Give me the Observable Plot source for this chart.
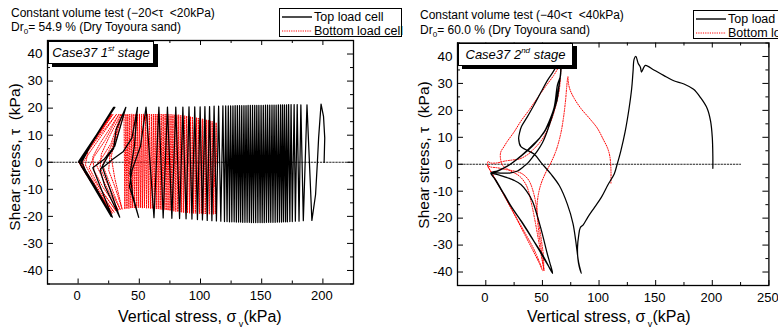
<!DOCTYPE html>
<html><head><meta charset="utf-8">
<script src="https://cdn.jsdelivr.net/npm/d3@7"></script>
<script src="https://cdn.jsdelivr.net/npm/@observablehq/plot@0.6"></script>
<style>
body{margin:0;width:778px;height:331px;overflow:hidden;background:#fff;position:relative;font-family:"Liberation Sans",Arial,sans-serif;color:#000}
.abs{position:absolute;white-space:nowrap}
.title{font-size:12px;line-height:14px}
.title sub{font-size:8px;vertical-align:-3px;line-height:0}
.legend{border:1px solid #000;background:#fff;font-size:12.5px}
.legend .row{position:absolute;left:0;height:14px;width:200px}
.legend svg.smp{position:absolute;left:2px;top:5px;width:30px;height:4px}
.legend .lab{position:absolute;left:34px;top:0;line-height:14px}
.case{border:1px solid #000;background:#fff;box-shadow:4px 3px 0 #000;font-style:italic;font-size:13px;line-height:21px;text-align:center}
.case sup{font-size:8px;vertical-align:6px;line-height:0}
.xl{font-size:16px}
.xl sub{font-size:9px;vertical-align:-5px;line-height:0}
.yl{font-size:15.5px;transform:translate(-50%,-50%) rotate(-90deg)}
svg.plot{position:absolute;top:0}
</style></head><body>
<script>
// ---------- axis definitions ----------
const yMajor = [-40,-30,-20,-10,0,10,20,30,40];
const yMinor = [-45,-35,-25,-15,-5,5,15,25,35,45];
const leftXLabels = [0,50,100,150,200];
const leftXMajor = [0,50,100,150,200];
const leftXMinor = [-25,25,75,125,175,225];
const rightXLabels = [0,50,100,150,200,250];
const rightXMajor = [0,50,100,150,200,250];
const rightXMinor = [-25,25,75,125,175,225];
const zeroLineLeft = [[-25,0],[225,0]];
const zeroLineRight = [[-25,0],[225,0]];

// ---------- Case37 1st stage : top load cell (sigma_v kPa, tau kPa) ----------
const leftTopCell = [
[201,0],[201.5,9],[200.5,17],[198.5,21.5],[196.5,9],[195.5,0],[194,-12],[191,-21.5],
[187,21.2],[184,-21.6],[182,21.2],[180.5,-21.8],[179,21.3],[177.5,-21.8],[176.5,21.3],[175,-21.9],
[174,21.3],[173,-21.9],[172,21.3],[171,-22],[170.3,21.2],[169.5,-22],[168.6,21.2],[167.8,-22],
[167,21.2],[166.2,-22.1],
[165.4,21.2],[164.5,-22.1],[163.6,21.2],[162.8,-22.1],[161.8,21.1],[161,-22.2],[160.1,21.1],[159.2,-22.2],
[158.4,21.1],[157.4,-22.2],[156.6,21.1],[155.7,-22.2],[154.8,21.1],[153.9,-22.2],[153.1,21.1],[152.1,-22.3],
[151.3,21],[150.4,-22.3],[149.5,21],[148.7,-22.3],[147.7,21],[146.9,-22.3],[146,21],[145.1,-22.3],
[144.3,21],[143.3,-22.3],[142.5,21],[141.6,-22.3],[140.7,21],[139.9,-22.2],[138.9,21],[138.1,-22.2],
[137.2,20.9],[136.3,-22.2],[135.5,20.9],[134.5,-22.2],[133.7,20.9],[132.8,-22.1],[131.9,20.9],[131.1,-22.1],
[130.1,20.9],[129.3,-22.1],[128.3,20.9],[127.5,-22],[126.5,20.8],[125.6,-22],[124.6,20.8],[123.7,-22],
[122.7,20.8],[121.7,-21.9],[120.6,20.8],[119.6,-21.9],
[118.3,20.8],[116.6,-21.8],[114.8,20.7],[113,-21.7],[111.1,20.7],[109.3,-21.6],[107.4,20.6],[105.5,-21.5],
[103.6,20.6],[101.6,-21.3],[99.7,20.5],
[97.5,-21.2],[95.3,20.5],[93,-21],[90.6,20.5],[88.2,-20.9],[85.6,20.4],[82.9,-20.8],
[79.8,20.4],[76.6,-20.7],[73,20.4],[69.5,-20.6],[66,20.4],[62,-20.5],[55.5,20.4],
[51,6],[44,-3],[42,-9],[49.5,-20.4],[44.5,-12],[42.5,-4],[46,6],[48.5,20.3],
[44,9],[37,4],[28,1],[20,-2],[34,-20.3],[22,-9],[18,-3],[24,2],[29,5],[31,12],[39,20.3],
[30,6],[21,1],[12,-2],[28,-20.3],[14,-9],[6,-3],[3,0],[10,6],[29.5,20.3],
[10,6],[3,1],[2,-1],[10,-7],[27,-20],[8,-5],[1,0],[29,20.3],[1,0],[28,-20.3],[0.5,0.3],[30,20.3],[0.5,0]
];

// ---------- Case37 1st stage : bottom load cell ----------
const leftBottomCell = [
[111,-9],[113,2],[112.8,14.6],
[112.1,-19.1],[111.2,15],[110.5,-19.2],[109.5,15.1],[108.9,-19.2],[107.9,15.3],[107.2,-19.2],[106.4,15.5],
[105.5,-19.1],[104.7,15.7],[103.9,-19.1],[103.1,15.9],[102.2,-19.1],[101.5,16],[100.7,-19],[99.8,16.2],
[99.1,-19],[98.2,16.3],[97.4,-19],[96.7,16.5],[95.8,-18.9],[95.1,16.6],[94.2,-18.9],[93.4,16.8],
[92.7,-18.8],[91.8,16.9],[91.1,-18.8],[90.2,17],[89.4,-18.7],[88.7,17.1],[87.8,-18.7],[87.1,17.2],
[86.2,-18.6],[85.5,17.3],[84.6,-18.5],[83.9,17.4],[83.1,-18.4],[82.2,17.5],[81.5,-18.3],[80.7,17.5],
[79.8,-18.2],[79.1,17.6],[78.2,-18.1],[77.5,17.6],[76.6,-18],[75.9,17.7],[75.1,-17.9],[74.2,17.7],
[73.5,-17.8],[72.6,17.8],[71.9,-17.7],[71.1,17.8],[70.2,-17.6],[69.5,17.8],[68.6,-17.5],[67.9,17.8],
[67.1,-17.4],[66.2,17.8],[65.5,-17.3],[64.6,17.8],[63.9,-17.3],[63.1,17.8],[62.2,-17.2],[61.5,17.8],
[60.6,-17.1],[59.9,17.8],[59.1,-17.1],[58.2,17.8],[57.5,-17],[56.6,17.8],[55.9,-17],[55.1,17.8],
[54.2,-16.9],[53.5,17.8],[52.6,-16.9],[51.9,17.8],[51.1,-16.8],[50.2,17.8],[49.5,-16.8],[48.6,17.8],
[47.9,-16.8],[47.1,17.8],[46.2,-16.9],[45.5,17.8],[44.6,-16.9],[43.9,17.8],[43.1,-17],[42.2,17.8],
[41.5,-17.1],[40.6,17.8],[39.9,-17.2],[39.1,17.8],[38.2,-17.3],[37.5,17.8],
[33,11],[29,6],[27,2],[30,-6],[36,-17.4],[30,-9],[25,-3],[26,3],[30,8],[36,17.8],[30,9],[24,3],[20,-1],
[26,-8],[34.5,-17.6],[24,-8],[18,-2],[19,3],[25,9],[35,17.8],[27,7],[20,2],[15,-1],
[22,-8],[33,-17.8],[20,-9],[13,-3],[12,2],[18,7],[33.5,17.8],[22,8],[13,2],[9,-2],[17,-9],[31,-18],
[12,-6],[6,-1],[8,4],[16,9],[31.5,17.8],[10,4],[4,0],[6,-4],[18,-12],[29.5,-18.5],[6,-3],[2,0],[8,5],
[28.5,17.7],[4,1.5],[1.2,-0.5],[10,-7],[28,-18.8],[3,-1],[1,0],[27.5,17.7],[1,0.2],[27,-19],[0.7,0],
[27,17.7],[0.8,0],[26.5,-18.5],[0.7,0]
];

// ---------- Case37 2nd stage : top load cell ----------
const rightTopCell = [
[200.5,-1.5],[200.5,3],[200,10],[198.5,16],[195.5,20.7],[190,24.5],[183.5,27.8],[175,29.8],[166,31],[157,33],
[148.4,35],[141,36.7],[139,35.5],[137.5,34.2],[136.5,36],[134.5,37.5],[132.5,40],[131,39],[130,34.3],[128.8,28],
[126.5,20.7],[123,12],[119.2,4.9],[116,0],[113.4,-3.6],[108,-7.5],[102,-12.3],[96,-16],[90,-19.7],[86,-22.5],
[83.5,-23.5],[82,-26.5],[81,-30.8],[81.3,-35],[82.5,-38],[84.3,-40.5],
[82,-36.5],[80.5,-32],[79.4,-28.4],[77,-22],[72,-14.8],[65,-8],[57.4,-3.6],[49,0.5],[42.6,3.8],[35,5.5],
[31,6.5],[29,9.5],[30,12],[31.5,14],[36.5,17.5],[42.6,22],[49,27],[55,31.5],[59,34],[62.5,36.5],[65,38.5],
[66,33],[63.3,29.5],[60.3,21],[55,15],[51.5,12],[42.6,7.3],[31,3],[19,-0.7],[10,-2.5],[4.4,-3.2],
[8,-5.5],[15,-10.5],[22,-15.5],[31,-21],[40,-27],[50,-33.5],[59,-40.5],
[56.5,-36.5],[54.4,-33.4],[51.5,-28.5],[48.5,-23.6],[45,-18.5],[41.2,-13.7],[36,-10],[31,-7.5],[25,-6],[19,-5],
[12,-4],[7.4,-3.6],[5,-3.4],[10,-3.2],[16,-3.3],[22,-3.2],[28,-2.5],[33,-1],[37,0.4],[41,2.5],[45.6,5],[50,8],
[54,12],[58,17],[61,21],[63,24],[65,30],[66.5,36],[67,40],
[66,33],[64,28],[61,22],[57,16.5],[51,11.5],[43,7.8],[32,3.4],[20,-0.5],[11,-2.5],[5,-3.4],
[9,-6],[16,-11],[23,-16],[32,-21.5],[41,-27.5],[50,-34],[58.5,-40]
];

// ---------- Case37 2nd stage : bottom load cell ----------
const rightBottomCell = [
[110.5,-7],[110.5,-2],[109.5,3],[107.5,6],[104,9],[98.6,13.3],[92,16.8],[84,20.7],[78,24.5],[74.5,27.5],
[73,30],[72.5,32.5],
[71.5,29],[70.5,24],[68.5,17],[66,11],[62,5],[57.4,0.5],[53,-3],[49,-7],[46.5,-11],[45.2,-16],[45.6,-20],
[47,-26],[48.5,-30],[50,-35],[51.5,-39.5],
[49,-34],[46.5,-28],[43,-20],[40,-14],[36,-8],[30,-4.5],[22,-2.5],[15,-0.5],[13,2],[13.2,4.5],[16,6.5],
[19,8.5],[25,12],[31,16],[38,20],[45.6,24.6],[53,29],[60,33],[63.5,35.5],
[66,37.5],[66,33],[65,28],[62,22],[58,16.5],[53,11.5],[48.5,8.5],[42,5.5],[37,3.6],[30,2],[24,1.6],
[17,1.2],[10,0.5],[4,0.5],[2,1],[1.5,-0.5],
[5,-3],[11,-7.5],[18,-13],[25,-18.5],[33,-25],[41,-31.5],[47,-36.5],[50.5,-39.5],
[51,-35],[49,-28],[46,-20],[43,-12],[38,-6],[32,-3.5],[25,-2.5],[18,-2],[10,-1.3],[4,-1],[2,-0.5],
[6,-4],[13,-9],[20,-14.5],[28,-20.5],[36,-26.5],[43,-32],[49.5,-38.5]
];

function panel(o){
  const fw = o.width - o.marginLeft - o.marginRight;
  const fh = o.height - o.marginTop - o.marginBottom;
  const p = Plot.plot({
    width:o.width, height:o.height,
    marginLeft:o.marginLeft, marginRight:o.marginRight, marginTop:o.marginTop, marginBottom:o.marginBottom,
    style:{fontFamily:'"Liberation Sans",Arial,sans-serif', background:"transparent", overflow:"visible"},
    x:{domain:o.xDomain}, y:{domain:[-45,45]},
    marks:[
      Plot.line(o.zero,{stroke:"#222",strokeWidth:1,strokeDasharray:"1.5,1.6"}),
      Plot.line(o.bottom,{stroke:"#ff0000",strokeWidth:1,strokeDasharray:"1.1,1.4",curve:o.curve}),
      Plot.line(o.top,{stroke:"#000",strokeWidth:1.25,curve:o.curve}),
      Plot.frame({stroke:"#000",strokeWidth:1.3}),
      Plot.tickY(yMajor,{y:d=>d,insetRight:fw-6,stroke:"#000"}),
      Plot.tickY(yMinor,{y:d=>d,insetRight:fw-3,stroke:"#000"}),
      Plot.tickY(yMajor,{y:d=>d,insetLeft:fw-6,stroke:"#000"}),
      Plot.tickY(yMinor,{y:d=>d,insetLeft:fw-3,stroke:"#000"}),
      Plot.tickX(o.xMajor,{x:d=>d,insetTop:fh-5,stroke:"#000"}),
      Plot.tickX(o.xMinor,{x:d=>d,insetTop:fh-3,stroke:"#000"}),
      Plot.tickX(o.xMajor,{x:d=>d,insetBottom:fh-5,stroke:"#000"}),
      Plot.tickX(o.xMinor,{x:d=>d,insetBottom:fh-3,stroke:"#000"}),
      Plot.axisY({ticks:yMajor,tickSize:0,tickPadding:5,fontSize:13.5,label:null,tickFormat:d=>String(d)}),
      Plot.axisX({ticks:o.xLabels,tickSize:0,tickPadding:7,fontSize:13,dx:-1,label:null})
    ]
  });
  p.classList.add("plot");
  p.style.left = o.left + "px";
  document.body.appendChild(p);
}

panel({left:0,width:360,height:331,marginLeft:47,marginRight:7,marginTop:40,marginBottom:47.5,
  xDomain:[-25,225],xMajor:leftXMajor,xMinor:leftXMinor,xLabels:leftXLabels,curve:"linear",
  zero:zeroLineLeft,top:leftTopCell,bottom:leftBottomCell});
panel({left:390,width:388,height:331,marginLeft:67,marginRight:9.6,marginTop:42.5,marginBottom:46,
  xDomain:[-25,250],xMajor:rightXMajor,xMinor:rightXMinor,xLabels:rightXLabels,curve:"catmull-rom",
  zero:zeroLineRight,top:rightTopCell,bottom:rightBottomCell});
</script>

<div class="abs title" style="left:11px;top:6px">Constant volume test (&minus;20&lt;&tau;&nbsp;&nbsp;&lt;20kPa)</div>
<div class="abs title" style="left:11px;top:20px">Dr<sub>0</sub>= 54.9 % (Dry Toyoura sand)</div>
<div class="abs title" style="left:420px;top:8px">Constant volume test (&minus;40&lt;&tau;&nbsp;&nbsp;&lt;40kPa)</div>
<div class="abs title" style="left:420px;top:23px">Dr<sub>0</sub>= 60.0 % (Dry Toyoura sand)</div>

<div class="abs legend" style="left:279px;top:8px;width:121px;height:27px">
  <div class="row" style="top:1px"><svg class="smp"><line x1="0" x2="30" y1="2" y2="2" stroke="#000" stroke-width="1.4"/></svg><div class="lab">Top load cell</div></div>
  <div class="row" style="top:15px"><svg class="smp"><line x1="0" x2="30" y1="2" y2="2" stroke="#ff0000" stroke-width="1" stroke-dasharray="1.2,1.1"/></svg><div class="lab">Bottom load cell</div></div>
</div>
<div class="abs legend" style="left:693px;top:10px;width:121px;height:27px">
  <div class="row" style="top:1px"><svg class="smp"><line x1="0" x2="30" y1="2" y2="2" stroke="#000" stroke-width="1.4"/></svg><div class="lab">Top load cell</div></div>
  <div class="row" style="top:15px"><svg class="smp"><line x1="0" x2="30" y1="2" y2="2" stroke="#ff0000" stroke-width="1" stroke-dasharray="1.2,1.1"/></svg><div class="lab">Bottom load cell</div></div>
</div>

<div class="abs case" style="left:48px;top:41px;width:104px;height:21px">Case37 1<sup>st</sup> stage</div>
<div class="abs case" style="left:458px;top:43px;width:113px;height:21px">Case37 2<sup>nd</sup> stage</div>

<div class="abs xl" style="left:118px;top:308px">Vertical stress, &sigma;<sub>&nbsp;v</sub>(kPa)</div>
<div class="abs xl" style="left:527px;top:308px">Vertical stress, &sigma;<sub>&nbsp;v</sub>(kPa)</div>
<div class="abs yl" style="left:15px;top:157px">Shear stress, &tau;&nbsp;&nbsp;(kPa)</div>
<div class="abs yl" style="left:424px;top:155px">Shear stress, &tau;&nbsp;&nbsp;(kPa)</div>
</body></html>
